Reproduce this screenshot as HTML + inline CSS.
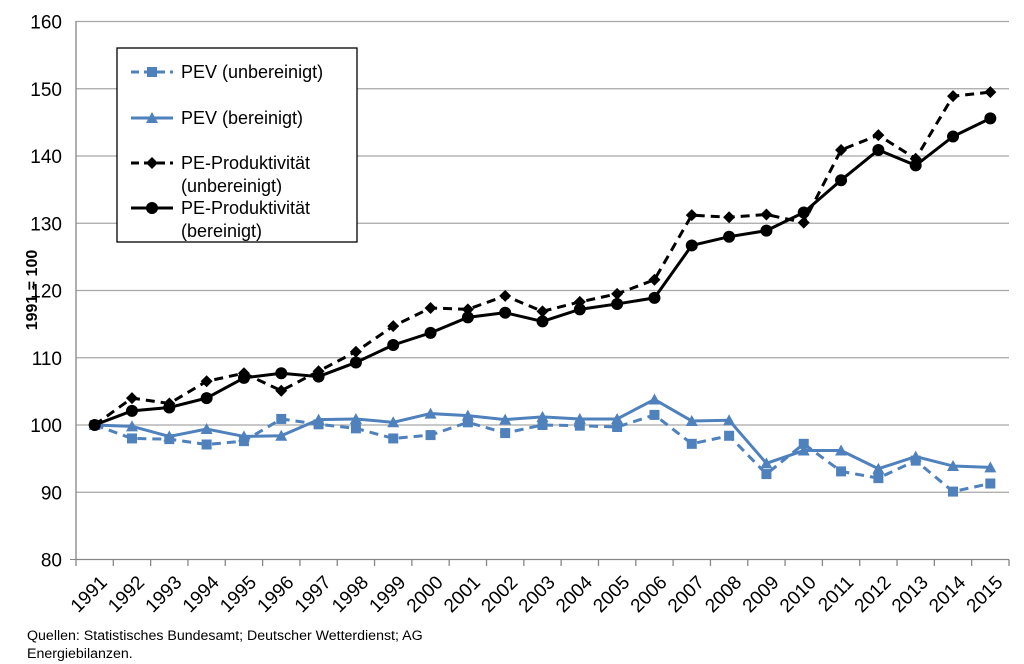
<!DOCTYPE html>
<html><head><meta charset="utf-8"><style>body{margin:0;background:#fff}svg{display:block}text{font-family:"Liberation Sans",Arial,sans-serif}</style></head>
<body>
<svg id="c" width="1024" height="664" xmlns="http://www.w3.org/2000/svg"></svg>
<script>
const s=document.getElementById('c');let h='';
const X=i=>76+37.32*(i+0.5), Y=v=>559.5-(v-80)*6.725;
for(let v=90;v<=160;v+=10)h+=`<line x1="76" x2="1009" y1="${Y(v)}" y2="${Y(v)}" stroke="#a6a6a6" stroke-width="1.3"/>`;
for(let v=80;v<=160;v+=10)h+=`<text x="62" y="${Y(v)+7}" font-size="19" text-anchor="end">${v}</text>`;
h+=`<line x1="76" x2="1009" y1="559.5" y2="559.5" stroke="#868686" stroke-width="1.3"/><line x1="76" x2="76" y1="21" y2="559.5" stroke="#868686" stroke-width="1.3"/><line x1="70" x2="76" y1="559.5" y2="559.5" stroke="#868686"/>`;
for(let i=0;i<=25;i++)h+=`<line x1="${76+37.32*i}" x2="${76+37.32*i}" y1="559.5" y2="566" stroke="#868686" stroke-width="1.3"/>`;
for(let i=0;i<25;i++){const x=X(i)+10,y=580;h+=`<text transform="translate(${x},${y}) rotate(-45)" font-size="19" text-anchor="end" dominant-baseline="middle">${1991+i}</text>`;}
h+=`<text transform="translate(37,290) rotate(-90)" font-size="16" font-weight="bold" text-anchor="middle">1991 = 100</text>`;
h+=`<text x="27" y="640" font-size="14.2">Quellen: Statistisches Bundesamt; Deutscher Wetterdienst; AG</text><text x="27" y="658" font-size="14.2">Energiebilanzen.</text>`;
const d={
pu:[100,104,103.2,106.5,107.7,105.1,108,110.9,114.7,117.4,117.2,119.2,116.9,118.3,119.5,121.6,131.2,130.9,131.3,130.1,140.9,143.1,139.6,148.9,149.5],
pb:[100,102.1,102.6,104,107,107.7,107.2,109.3,111.9,113.7,116,116.7,115.4,117.2,118,118.9,126.7,128,128.9,131.6,136.4,140.9,138.6,142.9,145.6],
eu:[100,98,97.9,97.1,97.6,100.9,100.1,99.5,98,98.5,100.4,98.8,100,99.9,99.7,101.5,97.2,98.4,92.7,97.2,93.1,92.1,94.7,90.1,91.3],
eb:[100,99.8,98.3,99.4,98.3,98.4,100.8,100.9,100.4,101.7,101.4,100.8,101.2,100.9,100.9,103.8,100.6,100.7,94.3,96.2,96.2,93.5,95.3,93.9,93.7]};
const B='#4f81bd';
function mk(t,x,y,c){if(t=='sq')return `<rect x="${x-5}" y="${y-5}" width="10" height="10" fill="${c}"/>`;
if(t=='tr')return `<polygon points="${x},${y-6} ${x+6},${y+5} ${x-6},${y+5}" fill="${c}"/>`;
if(t=='di')return `<polygon points="${x},${y-6} ${x+6},${y} ${x},${y+6} ${x-6},${y}" fill="${c}"/>`;
return `<circle cx="${x}" cy="${y}" r="6" fill="${c}"/>`;}
function ser(a,c,dash,t){h+=`<polyline fill="none" stroke="${c}" stroke-width="3" ${dash?'stroke-dasharray="9,6"':''} points="${a.map((v,i)=>X(i)+','+Y(v)).join(' ')}"/>`;a.forEach((v,i)=>h+=mk(t,X(i),Y(v),c));}
ser(d.eu,B,1,'sq');ser(d.eb,B,0,'tr');ser(d.pu,'#000',1,'di');ser(d.pb,'#000',0,'ci');
h+=`<rect x="117" y="48" width="240" height="194" fill="#fff" stroke="#000" stroke-width="1.3"/>`;
const L=[[72,B,1,'sq',['PEV (unbereinigt)']],[118,B,0,'tr',['PEV (bereinigt)']],[163,'#000',1,'di',['PE-Produktivität','(unbereinigt)']],[208,'#000',0,'ci',['PE-Produktivität','(bereinigt)']]];
L.forEach(([y,c,da,t,tx])=>{h+=`<line x1="131" x2="173" y1="${y}" y2="${y}" stroke="${c}" stroke-width="3" ${da?'stroke-dasharray="8,5"':''}/>`+mk(t,152,y,c);
tx.forEach((s2,k)=>h+=`<text x="181" y="${y+6+k*23}" font-size="18">${s2}</text>`);});
s.innerHTML=h;
</script>
</body></html>
